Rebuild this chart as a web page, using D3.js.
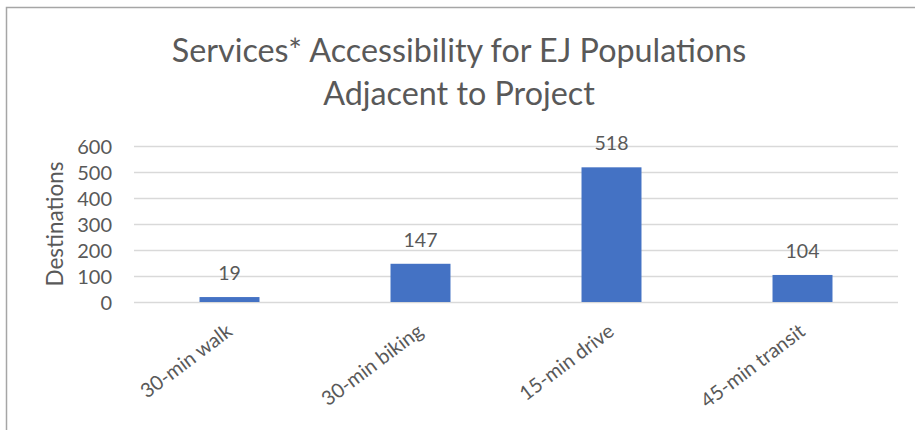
<!DOCTYPE html>
<html>
<head>
<meta charset="utf-8">
<script src="https://cdn.jsdelivr.net/npm/d3@7"></script>
<style>
  html, body { margin: 0; padding: 0; background: #fff; }
  svg { display: block; font-family: Lato, "Open Sans", sans-serif; }
</style>
</head>
<body>
<svg id="chart" width="915" height="430"></svg>
<script>
// Destination counts reachable by each travel mode
const categories = ["30-min walk", "30-min biking", "15-min drive", "45-min transit"];
const values = [19, 147, 518, 104];
const yTicks = [0, 100, 200, 300, 400, 500, 600];
const titleLines = ["Services* Accessibility for EJ Populations", "Adjacent to Project"];
const yAxisTitle = "Destinations";

const svg = d3.select("#chart");
const textColor = "#595959";
const gridColor = "#d9d9d9";
const barColor = "#4472c4";

// Chart frame (left and top edges)
svg.append("path")
  .attr("d", "M6.5,430 V7.5 H915")
  .attr("fill", "none")
  .attr("stroke", "#a6a6a6").attr("stroke-width", 1.5);

const plot = { left: 134, right: 898, top: 146, bottom: 302 };

const x = d3.scaleBand()
  .domain(categories)
  .range([plot.left, plot.right])
  .paddingInner(0.686).paddingOuter(0.343);

const y = d3.scaleLinear()
  .domain([0, 600])
  .range([plot.bottom, plot.top]);

// Title
svg.append("g").selectAll("text")
  .data(titleLines)
  .join("text")
  .attr("x", 459)
  .attr("y", (d, i) => 62 + i * 43)
  .attr("text-anchor", "middle")
  .attr("fill", textColor)
  .attr("font-size", 32.3)
  .text(d => d);

// Gridlines
svg.append("g").selectAll("line")
  .data(yTicks)
  .join("line")
  .attr("x1", plot.left).attr("x2", plot.right)
  .attr("y1", d => Math.round(y(d)) + 0.5)
  .attr("y2", d => Math.round(y(d)) + 0.5)
  .attr("stroke", gridColor).attr("stroke-width", 1.5);

// Y axis labels
const yAxis = d3.axisLeft(y).tickValues(yTicks).tickSize(0).tickPadding(0);
const yg = svg.append("g")
  .attr("transform", `translate(112,0)`)
  .call(yAxis);
yg.select(".domain").remove();
yg.selectAll("text")
  .attr("fill", textColor)
  .attr("font-size", 20)
  .attr("font-family", "Lato, sans-serif")
  .attr("dy", "0.36em");

// Y axis title
svg.append("text")
  .attr("transform", `translate(63,${y(300)}) rotate(-90)`)
  .attr("text-anchor", "middle")
  .attr("fill", textColor)
  .attr("font-size", 22.5)
  .text(yAxisTitle);

// Bars
svg.append("g").selectAll("rect")
  .data(values)
  .join("rect")
  .attr("x", (d, i) => x(categories[i]))
  .attr("width", x.bandwidth())
  .attr("y", d => y(d))
  .attr("height", d => y(0) - y(d))
  .attr("fill", barColor);

// Value labels
svg.append("g").selectAll("text")
  .data(values)
  .join("text")
  .attr("x", (d, i) => x(categories[i]) + x.bandwidth() / 2)
  .attr("y", d => y(d) - 17)
  .attr("text-anchor", "middle")
  .attr("fill", textColor)
  .attr("font-size", 19.5)
  .text(d => d);

// Category labels, rotated
const xAxis = d3.axisBottom(x).tickSize(0).tickPadding(0);
const xg = svg.append("g")
  .attr("transform", `translate(0,${plot.bottom})`)
  .call(xAxis);
xg.select(".domain").remove();
xg.selectAll("text")
  .attr("fill", textColor)
  .attr("font-size", 20)
  .attr("font-family", "Lato, sans-serif")
  .attr("text-anchor", "end")
  .attr("dy", 0)
  .attr("y", 0)
  .attr("transform", "translate(4,32) rotate(-37)");
</script>
</body>
</html>
